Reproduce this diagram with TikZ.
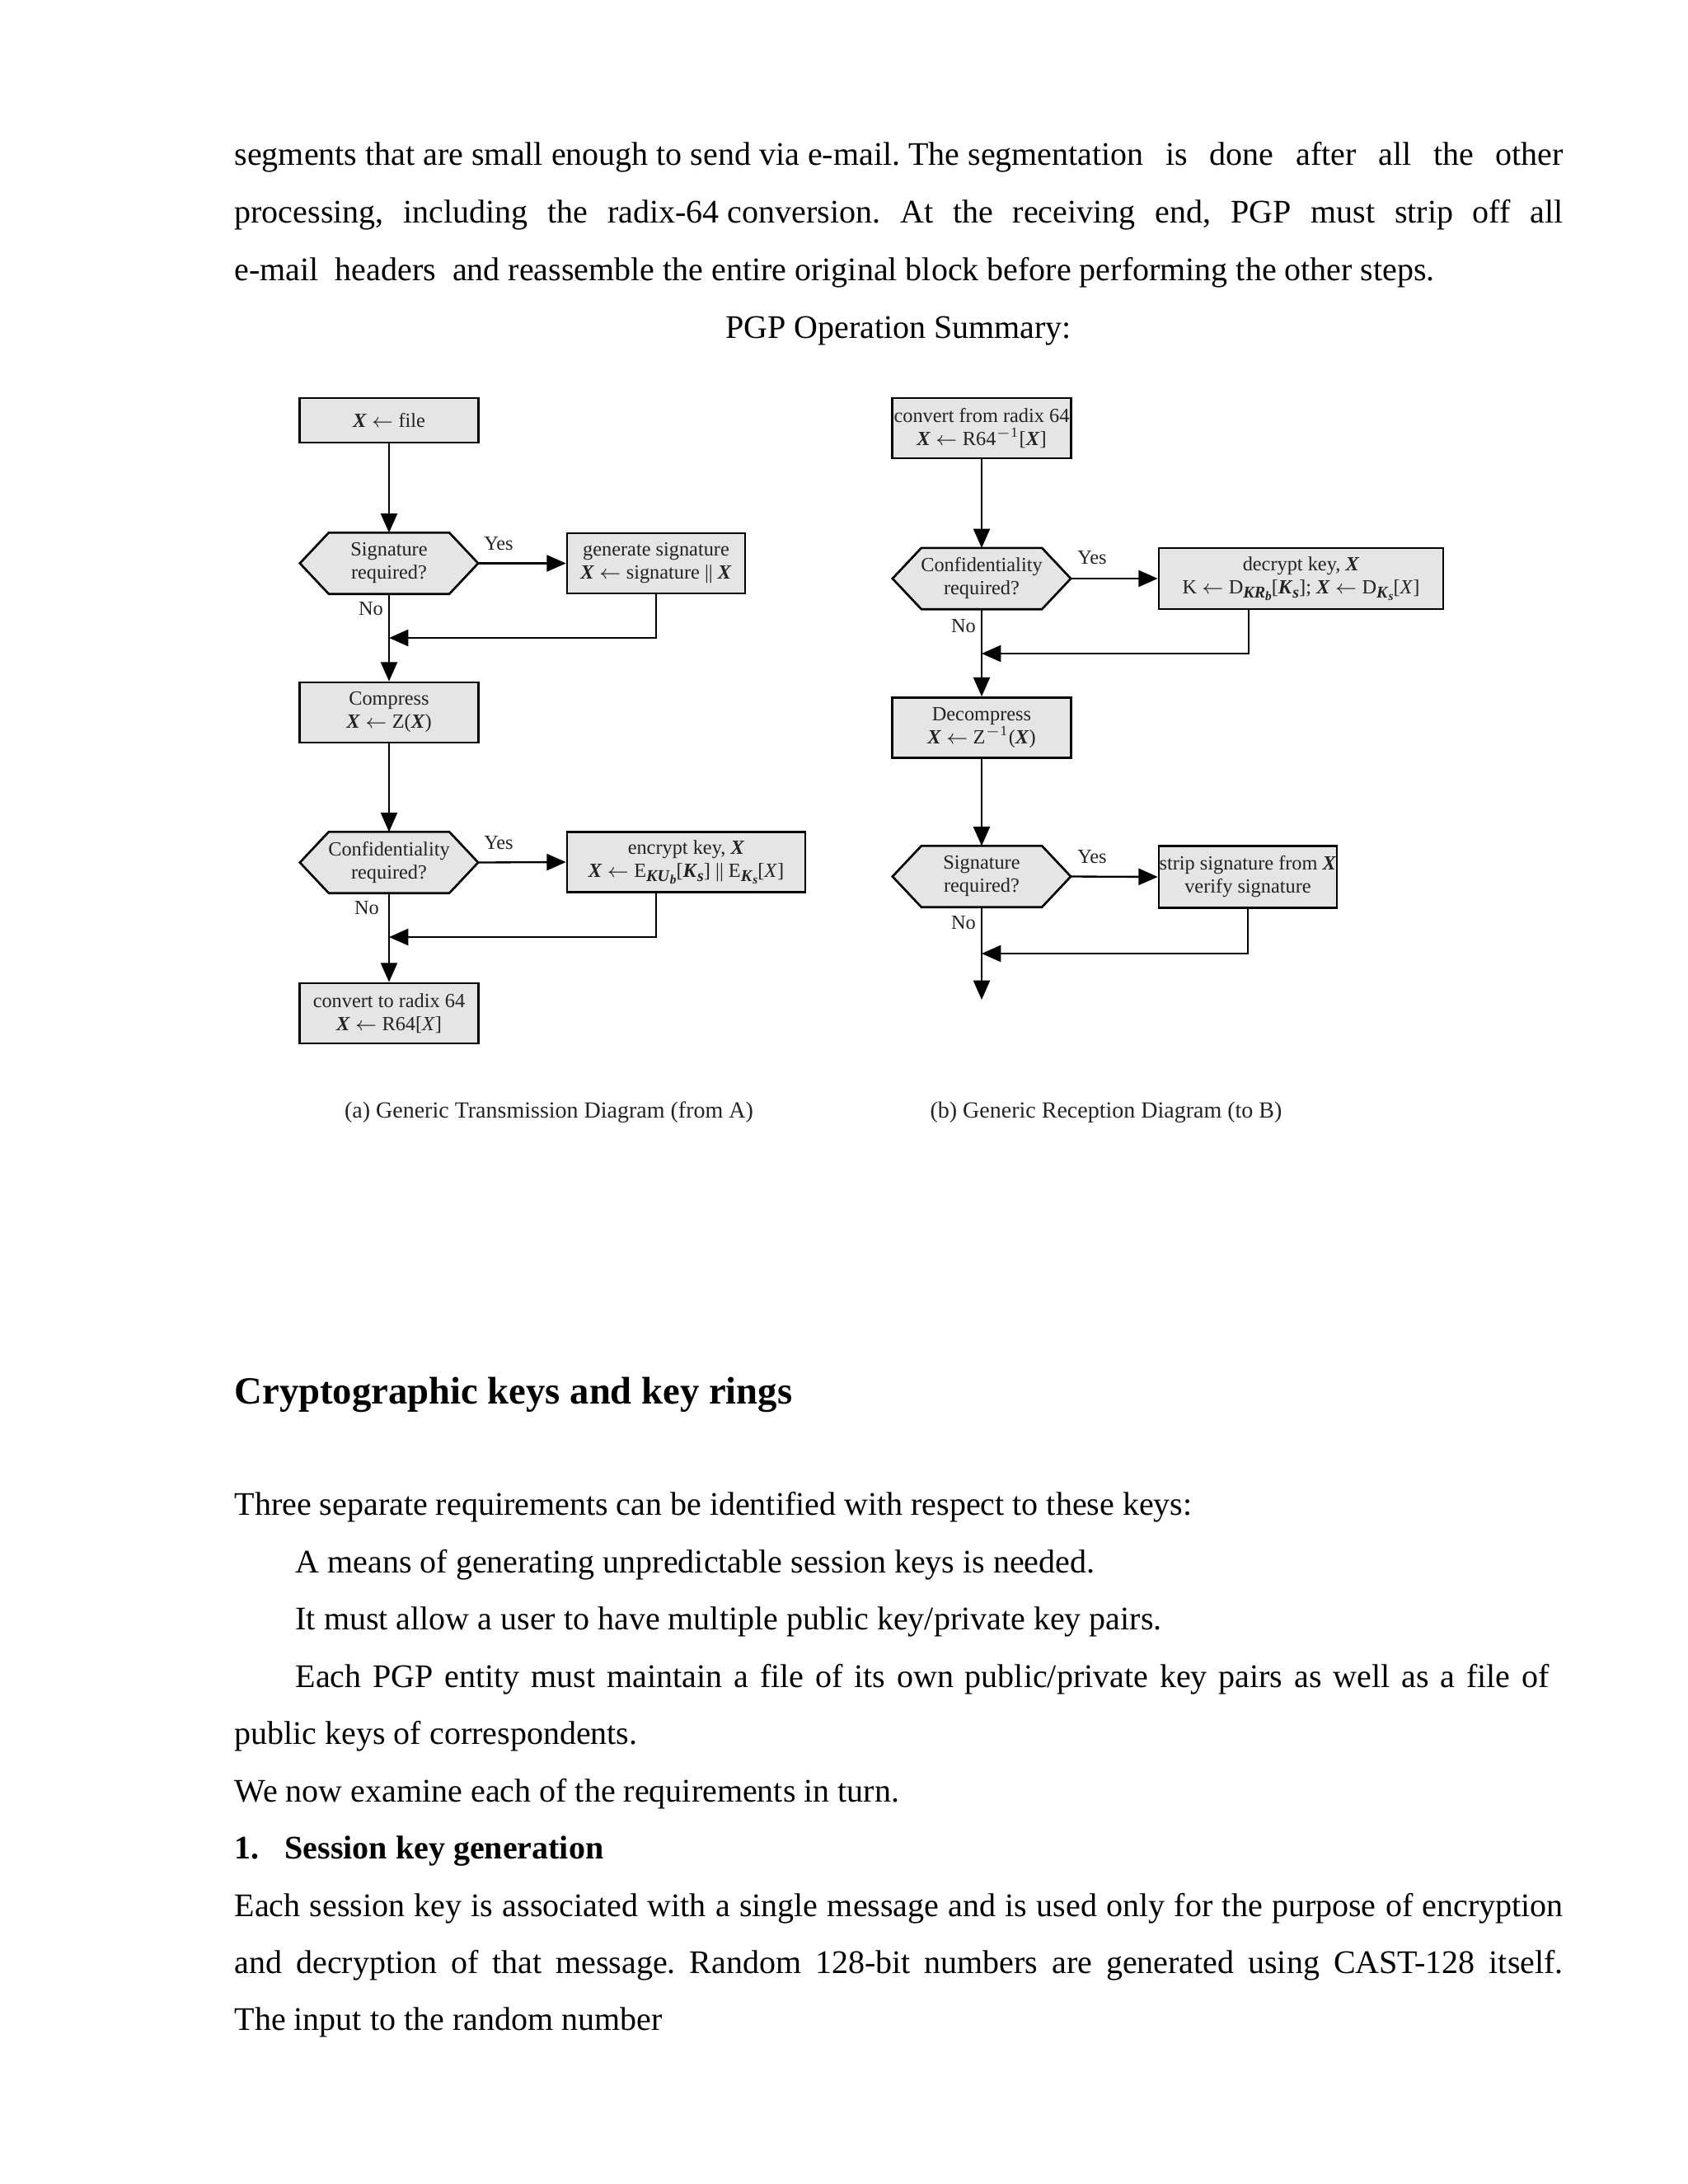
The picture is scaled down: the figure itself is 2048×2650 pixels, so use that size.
\documentclass[tikz,border=0pt]{standalone}
\usepackage{fontspec}
\setmainfont{Liberation Serif}
\usetikzlibrary{arrows.meta,backgrounds}
\definecolor{boxfill}{RGB}{229,229,229}
\definecolor{dtext}{RGB}{35,35,35}
\newcommand\bx{\textbf{\textit{X}}}
\newcommand\fsp{\hspace{3pt}}
\newcommand\dfont{\fontsize{7.3pt}{8.4pt}\selectfont}
\newcommand\dsub[1]{\raisebox{-0.45ex}{\fontsize{6pt}{6pt}\selectfont #1}}
\newcommand\dsubsub[1]{\raisebox{-0.35ex}{\fontsize{4.6pt}{5pt}\selectfont #1}}
\newcommand\hexpath[1]{\filldraw[draw=black,line width=0.8pt,fill=boxfill] (#1.west) -- ([xshift=10.5pt]#1.north west) -- ([xshift=-10.5pt]#1.north east) -- (#1.east) -- ([xshift=-10.5pt]#1.south east) -- ([xshift=10.5pt]#1.south west) -- cycle;}
\frenchspacing
\begin{document}
\begin{tikzpicture}[x=0.3pt,y=-0.3pt,
  box/.style={draw=black,line width=0.8pt,fill=boxfill,inner sep=0pt,align=center,font=\dfont,text=dtext,minimum width=65.1pt,minimum height=21.9pt},
  hexa/.style={inner sep=0pt,align=center,font=\dfont,text=dtext,minimum width=64.5pt,minimum height=21.9pt},
  conn/.style={line width=0.7pt,-{Triangle[length=7pt,width=6pt]}},
  lbl/.style={inner sep=0pt,font=\dfont,text=dtext},
  captext/.style={inner sep=0pt,anchor=base,font=\fontsize{8.4pt}{10pt}\selectfont,text=dtext},
  body/.style={inner sep=0pt,anchor=base west,font=\fontsize{12pt}{14pt}\selectfont},
  bodyc/.style={inner sep=0pt,anchor=base,font=\fontsize{12pt}{14pt}\selectfont}]
\useasboundingbox (0,0) rectangle (2048,2650);

% body text above
\node[body] (t1) at (284,200) {\makebox[483.6pt][s]{segments\fsp that\fsp are\fsp small\fsp enough\fsp to\fsp send\fsp via\fsp e-mail.\fsp The\fsp segmentation is done after all the other}};
\node[body] (t2) at (284,270) {\makebox[483.6pt][s]{processing, including the radix-64\fsp conversion. At the receiving end, PGP must strip off all}};
\node[body] (t3) at (284,340) {e-mail\ \ headers\ \ and reassemble the entire original block before performing the other steps.};
\node[bodyc] (t4) at (1090,410) {PGP Operation Summary:};

% left diagram
\node[box,minimum height=16.2pt] (n1) at (472,510) {\bx{} $\leftarrow$ file};
\node[hexa] (d1) at (472,683.5) {Signature\\required?};
\node[box,minimum width=64.8pt] (s1) at (796,683.5) {generate signature\\ \bx{} $\leftarrow$ signature || \bx};
\node[box] (n2) at (472,864.5) {Compress\\ \bx{} $\leftarrow$ Z(\bx)};
\node[hexa] (d2) at (472,1046.5) {Confidentiality\\required?};
\node[box,minimum width=86.7pt] (s2) at (832.5,1046) {encrypt key, \bx\\ \bx{} $\leftarrow$ E\dsub{\textbf{\textit{KU}}\dsubsub{\textbf{\textit{b}}}}[\textbf{\textit{K}}\dsub{\textbf{\textit{s}}}] || E\dsub{\textbf{\textit{K}}\dsubsub{\textbf{\textit{s}}}}[\textit{X}]};
\node[box] (n3) at (472,1229.5) {convert to radix 64\\ \bx{} $\leftarrow$ R64[\textit{X}]};
\coordinate (j1) at (472,774);
\coordinate (j2) at (472,1137);
\node[lbl] (y1) at (605,660) {Yes};
\node[lbl] (no1) at (450,739) {No};
\node[lbl] (y2) at (605,1023) {Yes};
\node[lbl] (no2) at (445,1102) {No};
\node[captext] (capa) at (666,1356) {(a) Generic Transmission Diagram (from A)};

% right diagram
\node[box] (m1) at (1191,519.5) {convert from radix 64\\ \bx{} $\leftarrow$ R64\textsuperscript{$-$1}[\bx]};
\node[hexa] (e1) at (1191,702) {Confidentiality\\required?};
\node[box,minimum width=103.5pt,minimum height=22.2pt] (r1) at (1578.5,702) {decrypt key, \bx\\ K $\leftarrow$ D\dsub{\textbf{\textit{KR}}\dsubsub{\textbf{\textit{b}}}}[\textbf{\textit{K}}\dsub{\textbf{\textit{s}}}]; \bx{} $\leftarrow$ D\dsub{\textbf{\textit{K}}\dsubsub{\textbf{\textit{s}}}}[\textit{X}]};
\node[box] (m2) at (1191,883) {Decompress\\ \bx{} $\leftarrow$ Z\textsuperscript{$-$1}(\bx)};
\node[hexa] (e2) at (1191,1063.5) {Signature\\required?};
\node[box,minimum width=64.8pt,minimum height=22.4pt] (r2) at (1514,1064) {strip signature from \bx\\verify signature};
\coordinate (k1) at (1191,793);
\coordinate (k2) at (1191,1157);
\coordinate (kend) at (1191,1213);
\node[lbl] (y3) at (1325,677) {Yes};
\node[lbl] (no3) at (1169,760) {No};
\node[lbl] (y4) at (1325,1040) {Yes};
\node[lbl] (no4) at (1169,1120) {No};
\node[captext] (capb) at (1342,1356) {(b) Generic Reception Diagram (to B)};

\begin{scope}[on background layer]
\fill[white] (0,0) rectangle (2048,2650);
\hexpath{d1}
\hexpath{d2}
\hexpath{e1}
\hexpath{e2}
\end{scope}

% connectors left
\draw[conn] (n1.south) -- (d1.north);
\draw[conn] (d1.east) -- (s1.west);
\draw[conn] (d1.south) -- (n2.north);
\draw[conn] (s1.south) |- (j1);
\draw[conn] (n2.south) -- (d2.north);
\draw[conn] (d2.east) -- (s2.west);
\draw[conn] (d2.south) -- (n3.north);
\draw[conn] ([xshift=32.7pt]s2.south west) |- (j2);
% connectors right
\draw[conn] (m1.south) -- (e1.north);
\draw[conn] (e1.east) -- (r1.west);
\draw[conn] (e1.south) -- (m2.north);
\draw[conn] ([xshift=33pt]r1.south west) |- (k1);
\draw[conn] (m2.south) -- (e2.north);
\draw[conn] (e2.east) -- (r2.west);
\draw[conn] (e2.south) -- (kend);
\draw[conn] (r2.south) |- (k2);

% body text below
\node[body,font=\fontsize{14pt}{16pt}\selectfont\bfseries] (h1) at (284,1703) {Cryptographic keys and key rings};
\node[body] (b1) at (284,1838) {Three separate requirements can be identified with respect to these keys:};
\node[body] (b2) at (358,1908) {A means of generating unpredictable session keys is needed.};
\node[body] (b3) at (358,1977) {It must allow a user to have multiple public key/private key pairs.};
\node[body] (b4) at (358,2047) {\makebox[456.3pt][s]{Each PGP entity must maintain a file of its own public/private key pairs as well as a file of}};
\node[body] (b5) at (284,2116) {public keys of correspondents.};
\node[body] (b6) at (284,2186) {We now examine each of the requirements in turn.};
\node[body,font=\fontsize{12pt}{14pt}\selectfont\bfseries] (b7a) at (284,2255) {1.};
\node[body,font=\fontsize{12pt}{14pt}\selectfont\bfseries] (b7b) at (345,2255) {Session key generation};
\node[body] (b8) at (284,2325) {\makebox[483.6pt][s]{Each session key is associated with a single message and is used only for the purpose of encryption}};
\node[body] (b9) at (284,2394) {\makebox[483.6pt][s]{and decryption of that message. Random 128-bit numbers are generated using CAST-128 itself.}};
\node[body] (b10) at (284,2463) {The input to the random number};
\end{tikzpicture}
\end{document}
